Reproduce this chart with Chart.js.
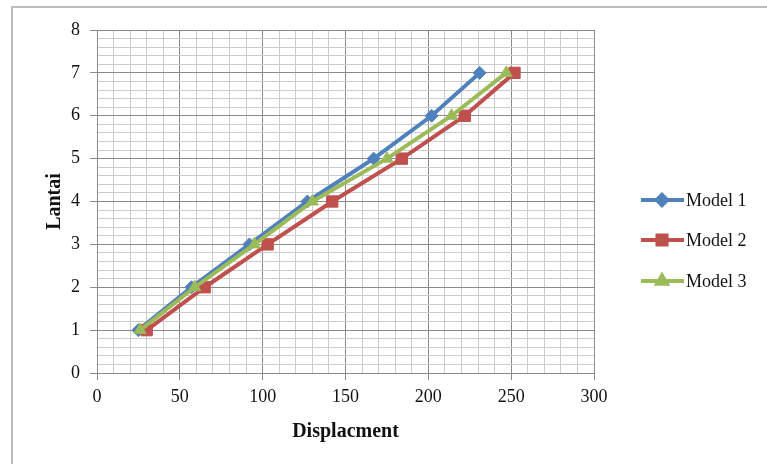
<!DOCTYPE html>
<html>
<head>
<meta charset="utf-8">
<script src="https://cdn.jsdelivr.net/npm/chart.js@4/dist/chart.umd.min.js"></script>
<style>
  html, body { margin: 0; padding: 0; background: #fff; }
  #wrap { position: relative; width: 767px; height: 464px; overflow: hidden; }
  #frame { position: absolute; left: 11px; top: 6px; width: 770px; height: 470px; border: 2px solid #bdbdbd; box-sizing: border-box; }
  #chart { position: absolute; left: 0; top: 0; }
</style>
</head>
<body>
<div id="wrap">
  <div id="frame"></div>
  <canvas id="chart" width="767" height="464"></canvas>
</div>
<script>
// Storey (lantai) vs displacement for the three models
const floors = [1, 2, 3, 4, 5, 6, 7];
const model1 = [25, 57, 92, 127, 167, 202, 231];
const model2 = [30, 65, 103, 142, 184, 222, 252];
const model3 = [26, 59, 95, 130, 175, 214, 247];
const seriesNames = ['Model 1', 'Model 2', 'Model 3'];
const xTicksMajor = [0, 50, 100, 150, 200, 250, 300];
const yTicksMajor = [0, 1, 2, 3, 4, 5, 6, 7, 8];

const MAJOR = '#8a8a8a';
const MINOR = '#cccccc';
const SERIF = "'Liberation Serif', 'Times New Roman', serif";

function pts(xs) {
  return xs.map((x, i) => ({ x: x, y: floors[i] }));
}

function isMajor(v, list) {
  return list.some(m => Math.abs(m - v) < 1e-6);
}

// legend drawn to the right: short line with the marker in the middle
const sideLegend = {
  id: 'sideLegend',
  afterDraw(chart) {
    const ctx = chart.ctx;
    const rows = [200, 240, 281];
    chart.data.datasets.forEach((ds, i) => {
      const y = rows[i];
      ctx.save();
      ctx.strokeStyle = ds.borderColor;
      ctx.lineWidth = 4;
      ctx.beginPath();
      ctx.moveTo(641, y);
      ctx.lineTo(684, y);
      ctx.stroke();
      ctx.fillStyle = ds.pointBackgroundColor;
      ctx.strokeStyle = ds.pointBorderColor;
      Chart.helpers.drawPoint(ctx, {
        pointStyle: ds.pointStyle, radius: ds.pointRadius * 0.8, rotation: 0, borderWidth: 1
      }, 662, y);
      ctx.fillStyle = '#111';
      ctx.font = '18px ' + SERIF;
      ctx.textBaseline = 'middle';
      ctx.fillText(ds.label, 686, y + 1);
      ctx.restore();
    });
  }
};

function series(label, data, color, style, radius, order) {
  return {
    label: label,
    data: pts(data),
    borderColor: color,
    backgroundColor: color,
    pointBackgroundColor: color,
    pointBorderColor: color,
    borderWidth: 4,
    pointStyle: style,
    pointRadius: radius,
    pointBorderWidth: 1,
    tension: 0,
    order: order
  };
}

new Chart(document.getElementById('chart').getContext('2d'), {
  type: 'line',
  data: {
    datasets: [
      series(seriesNames[0], model1, '#4f81bd', 'rectRot', 6.5, 3),
      series(seriesNames[1], model2, '#c0504d', 'rect', 8, 2),
      series(seriesNames[2], model3, '#9bbb59', 'triangle', 7, 1)
    ]
  },
  options: {
    responsive: false,
    animation: false,
    events: [],
    layout: { padding: { left: 40, top: 30, right: 173, bottom: 0 } },
    plugins: { legend: { display: false }, tooltip: { enabled: false } },
    scales: {
      x: {
        type: 'linear',
        min: 0,
        max: 300,
        afterFit: s => { s.height = 91; },
        ticks: {
          stepSize: 10,
          autoSkip: false,
          maxRotation: 0,
          padding: 6,
          color: '#111',
          font: { family: SERIF, size: 18 },
          callback: v => isMajor(v, xTicksMajor) ? String(v) : ''
        },
        grid: {
          color: c => isMajor(c.tick.value, xTicksMajor) ? MAJOR : MINOR,
          tickColor: c => isMajor(c.tick.value, xTicksMajor) ? MAJOR : 'rgba(0,0,0,0)',
          tickLength: 7
        },
        border: { color: MAJOR },
        title: {
          display: true,
          text: 'Displacment',
          color: '#111',
          font: { family: SERIF, size: 20, weight: 'bold' },
          padding: { top: 4, bottom: 20 }
        }
      },
      y: {
        type: 'linear',
        min: 0,
        max: 8,
        afterFit: s => { s.width = 57; },
        ticks: {
          stepSize: 0.2,
          autoSkip: false,
          padding: 10,
          color: '#111',
          font: { family: SERIF, size: 18 },
          callback: v => isMajor(v, yTicksMajor) ? String(Math.round(v)) : ''
        },
        grid: {
          color: c => isMajor(c.tick.value, yTicksMajor) ? MAJOR : MINOR,
          tickColor: c => isMajor(c.tick.value, yTicksMajor) ? MAJOR : 'rgba(0,0,0,0)',
          tickLength: 7
        },
        border: { color: MAJOR },
        title: {
          display: true,
          text: 'Lantai',
          color: '#111',
          font: { family: SERIF, size: 20, weight: 'bold' },
          padding: { top: 3, bottom: 0 }
        }
      }
    }
  },
  plugins: [sideLegend]
});
</script>
</body>
</html>
